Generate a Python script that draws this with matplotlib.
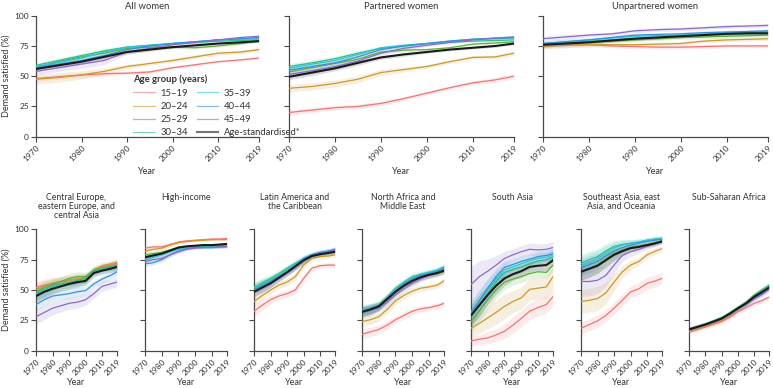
import numpy as np
import matplotlib.pyplot as plt

plt.rcParams['font.family'] = ['Lato', 'DejaVu Sans']

years = [1970, 1975, 1980, 1985, 1990, 1995, 2000, 2005, 2010, 2015, 2019]
age_groups = ['15–19', '20–24', '25–29', '30–34', '35–39', '40–44', '45–49', 'Age-standardised*']
colors = ['#F27474', '#C99A2E', '#5DAE3B', '#2DBE8A', '#2EC4D6', '#3A8FDD', '#8C6BC8', '#1a1a1a']

# values per panel, one list per age group (same order as age_groups)
all_women = [
    [48, 49.5, 51, 52, 52.5, 53.5, 57, 59.5, 62, 63.5, 65],
    [47.5, 49, 51, 54, 58, 60.5, 63, 66, 69, 70, 72],
    [57, 62, 66, 69, 73, 74, 74, 73.5, 75, 77, 79],
    [59, 63, 67, 71, 74, 75.5, 77, 78, 79, 79.5, 80],
    [58, 61.5, 65, 70, 74, 75.5, 77, 78.5, 80, 80.5, 81],
    [57, 60, 63, 67, 72, 75, 77, 78.5, 80, 81, 82],
    [54, 57, 60, 63, 70, 73, 76, 78, 80, 82, 83],
    [56, 59, 62, 66, 70, 72, 74, 75.5, 77, 78, 79],
]
partnered = [
    [20, 22, 24, 25, 27.5, 31.5, 36, 40.5, 44.5, 47, 50],
    [40, 41.5, 44, 47.5, 53, 55.5, 58, 62, 65.5, 66, 69],
    [53.5, 57, 60.5, 64, 70, 71.5, 72, 73.5, 76.5, 77.5, 78.5],
    [58, 61, 64.5, 69, 73, 75, 77, 78, 79, 79.5, 80],
    [56.5, 60, 63, 68, 73.5, 75.5, 77, 79, 80.5, 81, 81.5],
    [55, 58, 61, 66, 72, 75, 77, 79, 80.5, 81.5, 82],
    [51.5, 54.5, 58, 62.5, 69, 73, 75.5, 78, 80, 81.5, 82.5],
    [49.5, 53, 56.5, 61, 65.5, 68, 70, 72, 73.5, 75, 77],
]
unpartnered = [
    [75, 75.5, 76, 75, 74.5, 74, 74, 74.5, 75, 75, 75],
    [75, 75.5, 76, 76, 76, 76.5, 77, 79, 80, 80.5, 81],
    [76, 77, 78, 79, 80, 81, 82, 82.5, 83, 83.5, 84],
    [76, 77.5, 79, 80, 81, 82, 83, 84, 85, 85, 85],
    [77, 78.5, 80, 81.5, 83, 83.5, 84, 85, 86, 86.5, 87],
    [77, 78.5, 80, 82, 84, 84.5, 85, 86, 86.5, 87, 87.5],
    [81, 82.5, 84, 85, 87.5, 88.5, 89, 90, 91, 91.5, 92],
    [76, 77, 78, 79.5, 81, 82, 83, 84, 85, 85.5, 85.5],
]
cee = [
    [52, 54, 55.5, 57, 58, 59, 60, 66, 69, 70.5, 72],
    [50.5, 53, 55.5, 57, 58, 59, 59.5, 66.5, 70, 71.5, 73],
    [48.5, 52, 54.5, 57, 59.5, 61, 61, 66.5, 68, 69.5, 70.5],
    [47, 50.5, 53.5, 55, 56, 58, 59.5, 65.5, 68, 69, 70],
    [46, 49, 52, 53.5, 54.5, 56, 57.5, 64, 66.5, 68, 69],
    [38, 42, 45, 46, 47, 48.5, 49.5, 55, 59, 62, 65],
    [28, 31.5, 35, 37, 39, 40, 42, 47, 53, 55, 56.5],
    [45, 48.5, 51, 53, 55, 56.5, 57.5, 64, 66, 67.5, 69],
]
high_income = [
    [84.5, 85.5, 85.5, 87.5, 89.5, 90.5, 91, 91.5, 92, 92, 92.5],
    [82, 83.5, 84.5, 87, 89, 90, 90.5, 91, 91.5, 91.5, 91.5],
    [79, 80, 81, 83, 85, 85.5, 85.5, 86, 86.5, 86.5, 87],
    [76, 78, 79.5, 82, 84, 85, 85.5, 85.5, 85.5, 86, 86.5],
    [74.5, 77, 79, 81.5, 83.5, 85, 85.5, 85.5, 85.5, 85.5, 86],
    [71.5, 72.5, 75, 79, 82, 84, 85, 85, 85, 85.5, 85.5],
    [73.5, 75, 76, 79, 81.5, 83.5, 84.5, 85, 85, 85.5, 86],
    [77, 78.5, 80, 82.5, 85, 86, 86.5, 87, 87, 87.5, 88],
]
latam = [
    [32.5, 37.5, 42, 45, 47, 50, 59.5, 68, 70, 70.5, 70.5],
    [40.5, 45.5, 50, 54, 56.5, 61, 70.5, 76, 77.5, 78, 79],
    [51.5, 54.5, 58, 62, 66.5, 70, 74.5, 78, 80, 81, 81.5],
    [52, 56, 59.5, 63.5, 68, 72, 76, 79, 80.5, 82, 83],
    [52, 55, 58, 62, 66.5, 71, 76, 79, 81, 82, 83.5],
    [50, 53.5, 57, 61, 65, 70, 75.5, 79, 81, 82, 83.5],
    [48.5, 52, 55.5, 60, 64.5, 69, 74, 78, 80, 81.5, 83],
    [48.5, 52, 55.5, 60, 64.5, 69.5, 74.5, 78, 79.5, 80.5, 81.5],
]
name = [
    [13.5, 15.5, 17.5, 21, 25.5, 29, 32.5, 34.5, 35.5, 37, 39],
    [24, 25.5, 28, 34, 41, 45.5, 49, 51.5, 52.5, 54, 57.5],
    [31.5, 33.5, 36.5, 42, 48, 53, 57.5, 60, 62, 63.5, 65],
    [33.5, 35, 37.5, 44, 51.5, 56.5, 61, 63, 64.5, 66, 68],
    [33.5, 35, 37, 43.5, 50.5, 55.5, 59.5, 62.5, 64.5, 66.5, 69],
    [32.5, 34, 36.5, 43, 49.5, 55, 59, 62, 63.5, 65.5, 68.5],
    [31.5, 33, 35.5, 40, 46, 51, 55.5, 59, 62, 64, 66.5],
    [32, 34, 36.5, 42.5, 48.5, 53.5, 57.5, 60.5, 62.5, 64, 66],
]
south_asia = [
    [8, 9.5, 10.5, 13, 16, 21, 26.5, 32.5, 35.5, 38, 44.5],
    [18.5, 22.5, 27, 31.5, 36.5, 40.5, 43.5, 50.5, 51.5, 52.5, 61],
    [24, 33, 42, 50, 56.5, 59, 61, 63.5, 65, 64.5, 70.5],
    [28, 38, 47, 57, 64.5, 67, 69, 71.5, 74, 75, 77.5],
    [32, 41, 50, 59, 66.5, 69, 71.5, 74, 76, 77, 79],
    [31, 41, 51.5, 61, 68.5, 71, 73.5, 75.5, 77.5, 78.5, 80],
    [54.5, 61, 65.5, 70.5, 76, 79, 81.5, 83.5, 83, 83.5, 85],
    [29, 37.5, 46, 53.5, 59.5, 63, 65.5, 69, 70, 70.5, 74.5],
]
se_asia = [
    [18.5, 21.5, 24.5, 29, 35, 41.5, 48.5, 51, 55.5, 57.5, 59.5],
    [40.5, 41.5, 43, 47.5, 56.5, 65, 70.5, 73.5, 79, 82, 84],
    [65, 67.5, 70.5, 75.5, 80, 83, 85, 86, 87.5, 89, 90.5],
    [72, 75, 77.5, 82, 86, 87.5, 88.5, 89.5, 91, 92, 92.5],
    [70, 73, 76, 80.5, 84.5, 87, 88.5, 89.5, 91, 92, 92.5],
    [68.5, 71, 73.5, 78, 82, 85, 87, 88.5, 90, 91, 92],
    [57, 57, 58, 62, 70.5, 78.5, 81.5, 83.5, 86, 88, 90],
    [65, 67.5, 70, 74.5, 79, 82, 84.5, 85.5, 87, 88.5, 90],
]
ssa = [
    [15.5, 17.5, 20, 22, 24, 27.5, 32, 35.5, 39, 41.5, 44],
    [16.5, 18.5, 20.5, 22.5, 25.5, 29.5, 34.5, 39, 44.5, 49, 53],
    [17, 19, 21.5, 24, 27, 31, 35.5, 40, 46, 50.5, 54],
    [17.5, 19.5, 21.5, 24, 27, 31, 35.5, 40, 45.5, 50, 53.5],
    [17.5, 19.5, 21.5, 24, 27, 31, 35, 39.5, 44.5, 49, 53],
    [17.5, 19.5, 21.5, 24, 26.5, 30.5, 35, 39, 43.5, 47.5, 51.5],
    [17.5, 19.5, 21.5, 23.5, 26.5, 30.5, 34.5, 38.5, 42.5, 46.5, 50.5],
    [17.5, 19.5, 21.5, 24, 26.5, 30.5, 35, 39, 44.5, 48.5, 52],
]

# uncertainty half-widths: panel default, plus a few age groups that differ
band_default = {
    'all': [2, 2, 2, 2, 1.5, 1.5, 1, 1, 1, 1, 1],
    'partnered': [2.5, 2.5, 2, 2, 1.5, 1.5, 1, 1, 1, 1, 1],
    'unpartnered': [2, 2, 1.5, 1.5, 1.5, 1.5, 1.5, 1.5, 1.5, 1.5, 1.5],
    'cee': [5, 5, 4.5, 4, 4, 4, 3.5, 3, 3, 3, 3],
    'hic': [2, 2, 2, 1.5, 1.5, 1, 1, 1, 1, 1, 1],
    'latam': [4, 4, 3.5, 3, 3, 3, 2.5, 2, 2, 2, 2],
    'name': [4, 4, 3.5, 3.5, 3, 3, 3, 2.5, 2.5, 2.5, 2.5],
    'sa': [9, 9, 8, 7, 6, 5, 5, 4.5, 4.5, 4.5, 4.5],
    'sea': [7, 7, 6.5, 6, 5, 4, 3, 2.5, 2, 2, 2],
    'ssa': [2, 2, 2, 2, 2, 2, 2, 2, 2, 2, 2],
}
band_extra = {
    ('all', 1): [4, 4, 3.5, 3, 2, 1.5, 1.5, 1.5, 1.5, 1.5, 1.5],
    ('all', 6): [3, 3, 3.5, 3.5, 2, 1.5, 1, 1, 1, 1, 1],
    ('partnered', 1): [3, 3, 3, 3, 2.5, 2, 1.5, 1.5, 1.5, 1.5, 2],
    ('partnered', 0): [2, 2, 2, 2, 2, 1.5, 1.5, 1.5, 1.5, 2, 2],
    ('cee', 6): [6, 6, 5.5, 5, 5, 5, 4.5, 4, 4, 4, 4],
    ('sa', 6): [15, 13, 10, 8, 6, 5, 5, 5, 5, 5, 5],
    ('sa', 1): [7, 8, 9, 10, 10, 9, 9, 9, 9, 9, 9],
    ('sa', 0): [4, 4, 5, 5, 6, 7, 7, 7, 7, 7, 7],
    ('sea', 1): [10, 10, 10, 9, 7, 5, 4, 3, 3, 2.5, 2],
    ('sea', 6): [12, 12, 11, 9, 7, 5, 4, 3, 2.5, 2, 2],
    ('sea', 0): [5, 5, 5, 5, 5, 5, 5, 5, 5, 5, 5],
}

top_panels = [('all', 'All women', all_women), ('partnered', 'Partnered women', partnered),
              ('unpartnered', 'Unpartnered women', unpartnered)]
bottom_panels = [('cee', 'Central Europe,\neastern Europe, and\ncentral Asia', cee),
                 ('hic', 'High-income', high_income),
                 ('latam', 'Latin America and\nthe Caribbean', latam),
                 ('name', 'North Africa and\nMiddle East', name),
                 ('sa', 'South Asia', south_asia),
                 ('sea', 'Southeast Asia, east\nAsia, and Oceania', se_asia),
                 ('ssa', 'Sub-Saharan Africa', ssa)]

W, H = 773, 388
fig = plt.figure(figsize=(W / 100, H / 100), dpi=100)
spine_col = '#4a4a4a'
txt_col = '#333333'


def add_ax(x0, x1, ytop, ybot):
    return fig.add_axes([x0 / W, 1 - ybot / H, (x1 - x0) / W, (ybot - ytop) / H])


def draw(ax, key, title, data, first, top):
    yr = np.array(years)
    for i, vals in enumerate(data):
        v = np.array(vals, dtype=float)
        hw = np.array(band_extra.get((key, i), band_default[key]), dtype=float)
        ax.fill_between(yr, v - hw, v + hw, color=colors[i], alpha=0.15, lw=0)
    for i, vals in enumerate(data):
        lw = 1.5 if i == 7 else 0.9
        ax.plot(yr, vals, color=colors[i], lw=lw, label=age_groups[i], zorder=3 + (i == 7))
    ax.set_xlim(1970, 2019)
    ax.set_ylim(0, 100)
    for s in ['top', 'right']:
        ax.spines[s].set_visible(False)
    for s in ['left', 'bottom']:
        ax.spines[s].set_color(spine_col)
        ax.spines[s].set_linewidth(0.9)
    ax.set_xticks([1970, 1980, 1990, 2000, 2010, 2019])
    ax.set_yticks([0, 25, 50, 75, 100])
    ax.tick_params(colors=spine_col, labelcolor=txt_col, length=3.5, width=0.8,
                   labelsize=6, pad=1.5)
    for lab in ax.get_xticklabels():
        lab.set_rotation(45)
        lab.set_ha('right')
        lab.set_rotation_mode('anchor')
    if first:
        ax.set_ylabel('Demand satisfied (%)', fontsize=6.5, color=txt_col, labelpad=3)
    else:
        ax.set_yticklabels([])
    ax.set_xlabel('Year', fontsize=6.5, color=txt_col, labelpad=3 if top else 1)
    ax.patch.set_alpha(0)


for j, (x0, x1) in enumerate([(36, 259), (289, 514), (543, 768)]):
    key, title, data = top_panels[j]
    ax = add_ax(x0, x1, 15.7, 136.7)
    draw(ax, key, title, data, j == 0, True)
    ax.text(0.5, (136.7 - 1.5) / 121, title, transform=ax.transAxes, ha='center',
            va='top', fontsize=6.8, color=txt_col)
    if j == 0:
        leg = ax.legend(loc='upper left', bbox_to_anchor=(0.414, 0.55), ncol=2,
                        frameon=False, fontsize=6.8, title='Age group (years)',
                        title_fontsize=6.8, alignment='left', borderpad=0,
                        handlelength=2.3, handletextpad=0.6, columnspacing=0.9,
                        labelspacing=0.45)
        leg.get_title().set_fontweight('bold')
        leg.get_title().set_color(txt_col)
        for t in leg.get_texts():
            t.set_color(txt_col)
        for h in leg.get_lines():
            h.set_alpha(0.6)

bx = [(36, 117), (145, 227), (254, 335), (362, 444), (471, 553), (581, 662), (689, 769)]
for j, (x0, x1) in enumerate(bx):
    key, title, data = bottom_panels[j]
    ax = add_ax(x0, x1, 229.3, 350.7)
    draw(ax, key, title, data, j == 0, False)
    ax.text(0.5, (350.7 - 192.5) / 121.4, title, transform=ax.transAxes, ha='center',
            va='top', fontsize=6.3, color=txt_col, linespacing=1.05)

fig.savefig('out.png', dpi=100)
